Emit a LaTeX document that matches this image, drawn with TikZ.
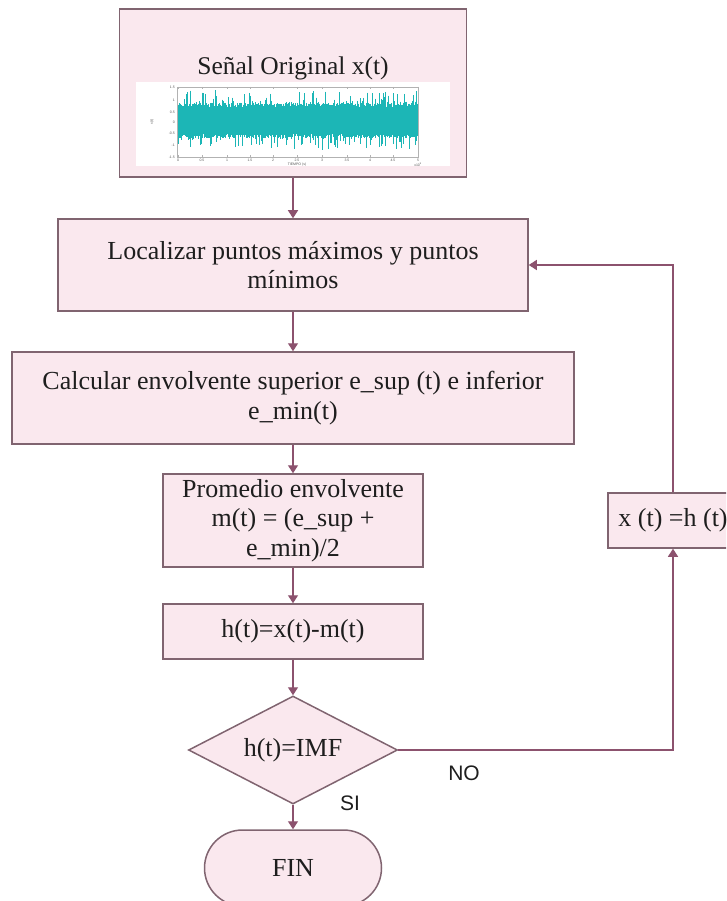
\documentclass[tikz,border=0pt]{standalone}
\usepackage{fontspec}
\setmainfont{Liberation Serif}
\newfontfamily\labelfont{Liberation Sans}
\usetikzlibrary{arrows.meta,shapes.geometric}

\definecolor{boxfill}{RGB}{250,232,238}
\definecolor{boxline}{RGB}{128,100,112}
\definecolor{linkcol}{RGB}{140,82,110}
\definecolor{sigcol}{RGB}{28,182,182}
\definecolor{txtcol}{RGB}{30,30,30}

\tikzset{
  proc/.style={draw=boxline, fill=boxfill, line width=1.5pt, align=center,
    inner sep=0pt, text=txtcol, font=\fontsize{26}{29.5}\selectfont},
  decision/.style={proc, diamond, aspect=2},
  terminal/.style={proc, rounded corners=38pt},
  link/.style={draw=linkcol, line width=1.3pt, -{Triangle[length=8pt,width=10pt]}},
  branch/.style={font=\labelfont\fontsize{21}{24}\selectfont, text=txtcol, inner sep=0pt},
  ticklabel/.style={font=\labelfont\fontsize{3.5}{4}\selectfont, text=gray!70!black, inner sep=0pt},
  sig/.style={draw=sigcol, line width=0.6pt},
}

\begin{document}
\begin{tikzpicture}[x=1pt,y=-1pt]
\clip (0,0) rectangle (726,901);

% input signal box with title and plot
\node[proc, minimum width=347, minimum height=168] (orig) at (293,93) {};
\node[font=\fontsize{25.5}{29.5}\selectfont, text=txtcol, inner sep=0pt] (title) at (293,68) {Señal Original x(t)};

% small plot of the raw signal
\fill[white] (136,82) rectangle (450,166);
\pgfmathsetseed{42}
\fill[sigcol] (178,108) rectangle (418,133);
\foreach \i in {0,...,400}{
  \pgfmathsetmacro{\xx}{178+\i*0.6}
  \pgfmathsetmacro{\up}{107-4*rnd-14*rnd^9}
  \pgfmathsetmacro{\dn}{134+4*rnd+14*rnd^9}
  \draw[sig] (\xx,\up) -- (\xx,\dn);
}
\draw[gray!60, line width=0.4pt] (177,87) rectangle (418,157);
\foreach \yy/\lab in {87/1.5,100/1,112/0.5,122/0,133/-0.5,145/-1,157/-1.5}{
  \node[ticklabel, anchor=east] at (175,\yy) {\lab};
}
\foreach \xx/\lab in {178/0,202/0.5,227/1,250/1.5,273/2,297/2.5,322/3,347/3.5,370/4,393/4.5,418/5}{
  \draw[gray!60, line width=0.3pt] (\xx,157) -- (\xx,155) (\xx,87) -- (\xx,89);
  \node[ticklabel] at (\xx,160.5) {\lab};
}
\node[ticklabel] at (297,164.5) {TIEMPO (s)};
\node[ticklabel, rotate=90] at (152,122) {x(t)};
\node[ticklabel] at (418,164.5) {x10\textsuperscript{5}};

% process steps
\node[proc, minimum width=470, minimum height=92] (loc) at (293,265)
  {Localizar puntos máximos y puntos\\mínimos};
\node[proc, minimum width=562, minimum height=92] (env) at (293,398)
  {Calcular envolvente superior e\_sup (t) e inferior\\e\_min(t)};
\node[proc, minimum width=260, minimum height=93] (avg) at (293,520.5)
  {Promedio envolvente\\m(t) = (e\_sup +\\e\_min)/2};
\node[proc, minimum width=260, minimum height=55] (diff) at (293,631.5)
  {h(t)=x(t)-m(t)};
\node[decision, minimum width=209, minimum height=108] (dec) at (293,750)
  {h(t)=IMF};
\node[terminal, minimum width=177, minimum height=76] (fin) at (293,868)
  {FIN};
\node[proc, minimum width=130, minimum height=55] (upd) at (673,520.5)
  {x (t) =h (t)};

% main flow
\draw[link] (orig.south) -- (loc.north);
\draw[link] (loc.south) -- (env.north);
\draw[link] (env.south) -- (avg.north);
\draw[link] (avg.south) -- (diff.north);
\draw[link] (diff.south) -- (dec.north);
\draw[link] (dec.south) -- (fin.north);

% sifting loop
\draw[link] (dec.east) -| (upd.south);
\draw[link] (upd.north) |- (loc.east);

\node[branch] (no) at (464,773) {NO};
\node[branch] (si) at (350,803) {SI};
\end{tikzpicture}
\end{document}
